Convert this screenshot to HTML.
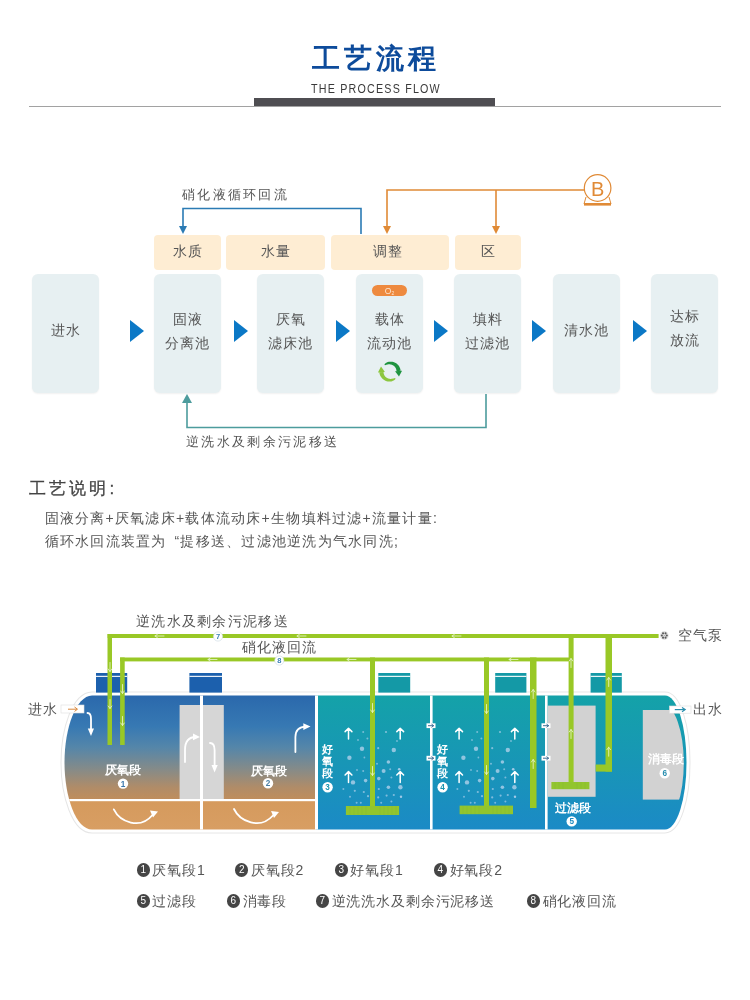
<!DOCTYPE html>
<html><head><meta charset="utf-8"><style>
*{margin:0;padding:0;box-sizing:border-box}
html,body{width:750px;height:1000px;background:#fff;overflow:hidden}
body{position:relative;font-family:"Liberation Sans",sans-serif;color:#555;will-change:transform}
.a{position:absolute}
.t1{left:312px;top:39.5px;font-size:28px;color:#0d4b9b;letter-spacing:4px;font-weight:bold;white-space:nowrap}
.t2{left:311px;top:80.5px;font-size:13.4px;color:#3a3a3a;letter-spacing:1.5px;white-space:nowrap;transform:scaleX(0.8);transform-origin:0 0}
.bar{left:254px;top:98px;width:241px;height:8px;background:#4f4e52}
.ln{left:29px;top:106px;width:692px;height:1px;background:#a2a2a2}
.box{background:#e7f0f2;border-radius:6px;width:67px;height:119px;top:274px;box-shadow:0 1px 2px rgba(0,0,0,.06);display:flex;align-items:center;justify-content:center;text-align:center;font-size:14px;line-height:24px;letter-spacing:1px;color:#555;padding-bottom:5px}
.lab{background:#feedd3;border-radius:4px;height:34.5px;top:235px;display:flex;align-items:center;justify-content:center;font-size:14px;letter-spacing:1px;color:#555}
.tri{width:0;height:0;border-top:12px solid transparent;border-bottom:12px solid transparent;border-left:14.5px solid #0b78c6;top:319.8px;border-top-width:11.7px;border-bottom-width:11.7px}
.h2{left:29px;top:477px;font-size:17px;color:#444;letter-spacing:3.1px;white-space:nowrap;-webkit-text-stroke:0.3px #444}
.p{left:44.5px;font-size:14px;color:#555;letter-spacing:1.25px;white-space:nowrap}
</style></head><body>
<div class="a t1">工艺流程</div>
<div class="a t2">THE PROCESS FLOW</div>
<div class="a ln"></div>
<div class="a bar"></div>

<!-- flow labels -->
<div class="a lab" style="left:154px;width:67px">水质</div>
<div class="a lab" style="left:226px;width:99px">水量</div>
<div class="a lab" style="left:331px;width:118px;padding-right:5px">调整</div>
<div class="a lab" style="left:455px;width:66px">区</div>

<!-- flow boxes -->
<div class="a box" style="left:32px;padding-bottom:7.6px">进水</div>
<div class="a box" style="left:154px">固液<br>分离池</div>
<div class="a box" style="left:257px">厌氧<br>滤床池</div>
<div class="a box" style="left:356px">载体<br>流动池</div>
<div class="a box" style="left:454px">填料<br>过滤池</div>
<div class="a box" style="left:553px;padding-bottom:7.6px">清水池</div>
<div class="a box" style="left:651px;padding-bottom:12px">达标<br>放流</div>

<div class="a tri" style="left:129.8px"></div>
<div class="a tri" style="left:234.3px"></div>
<div class="a tri" style="left:335.8px"></div>
<div class="a tri" style="left:433.6px"></div>
<div class="a tri" style="left:532.4px"></div>
<div class="a tri" style="left:632.6px"></div>

<svg class="a" style="left:0;top:0" width="750" height="470" viewBox="0 0 750 470">
  <!-- blue recycle line -->
  <polyline points="361,234 361,208.5 183,208.5 183,227" fill="none" stroke="#2b7bb4" stroke-width="1.6"/>
  <polygon points="179,226 187,226 183,234" fill="#2b7bb4"/>
  <!-- orange -->
  <polyline points="387,228 387,190 584,190" fill="none" stroke="#e08a36" stroke-width="1.6"/>
  <line x1="496" y1="190" x2="496" y2="228" stroke="#e08a36" stroke-width="1.6"/>
  <polygon points="383,226 391,226 387,234" fill="#e08a36"/>
  <polygon points="492,226 500,226 496,234" fill="#e08a36"/>
  <circle cx="597.6" cy="188" r="13.3" fill="#fff" stroke="#e08a36" stroke-width="1.2"/>
  <path d="M586,197 L584,204 L611,204 L609,197" fill="none" stroke="#e08a36" stroke-width="1"/>
  <rect x="584" y="203" width="27" height="2.6" fill="#e08a36"/>
  <text x="597.6" y="196" font-size="20" fill="#e08a36" text-anchor="middle" font-family="Liberation Sans">B</text>
  <!-- teal return line -->
  <polyline points="486,394 486,427.5 187,427.5 187,401" fill="none" stroke="#4d9c9d" stroke-width="1.6"/>
  <polygon points="182,403 192,403 187,394" fill="#4d9c9d"/>
  <!-- O2 pill -->
  <rect x="372" y="285" width="35" height="11" rx="5.5" fill="#ee8a3f"/>
  <text x="389.5" y="294" font-size="8.5" fill="#fde6d0" text-anchor="middle" font-family="Liberation Sans">O<tspan font-size="5" dy="1">2</tspan></text>
</svg>
<svg class="a" style="left:-0.8px;top:-0.8px" width="750" height="470" viewBox="0 0 750 470"><polygon points="385.46,365.51 385.93,364.75 386.59,364.19 387.33,363.73 388.11,363.35 388.94,363.04 389.80,362.82 390.68,362.69 391.58,362.64 392.48,362.67 393.39,362.79 394.28,362.99 395.15,363.28 396.00,363.65 396.81,364.10 397.58,364.62 398.30,365.21 398.97,365.87 399.58,366.59 400.12,367.37 400.59,368.20 400.98,369.06 401.30,369.97 401.53,370.90 401.67,371.85 397.48,372.15 397.45,371.56 397.37,370.97 397.23,370.39 397.04,369.83 396.80,369.27 396.51,368.74 396.17,368.23 395.79,367.76 395.36,367.31 394.89,366.90 394.39,366.53 393.85,366.21 393.28,365.93 392.68,365.70 392.06,365.52 391.42,365.39 390.77,365.32 390.10,365.30 389.44,365.34 388.76,365.43 388.09,365.58 387.42,365.77 386.74,366.00 385.95,366.14" fill="#1f9440"/><polygon points="403.07,371.76 396.09,372.24 399.97,377.59" fill="#1f9440"/><polygon points="396.54,379.69 396.07,380.45 395.41,381.01 394.67,381.47 393.89,381.85 393.06,382.16 392.20,382.38 391.32,382.51 390.42,382.56 389.52,382.53 388.61,382.41 387.72,382.21 386.85,381.92 386.00,381.55 385.19,381.10 384.42,380.58 383.70,379.99 383.03,379.33 382.42,378.61 381.88,377.83 381.41,377.00 381.02,376.14 380.70,375.23 380.47,374.30 380.33,373.35 384.52,373.05 384.55,373.64 384.63,374.23 384.77,374.81 384.96,375.37 385.20,375.93 385.49,376.46 385.83,376.97 386.21,377.44 386.64,377.89 387.11,378.30 387.61,378.67 388.15,378.99 388.72,379.27 389.32,379.50 389.94,379.68 390.58,379.81 391.23,379.88 391.90,379.90 392.56,379.86 393.24,379.77 393.91,379.62 394.58,379.43 395.26,379.20 396.05,379.06" fill="#8cc63f"/><polygon points="378.93,373.44 385.91,372.96 382.03,367.61" fill="#8cc63f"/></svg>
<div class="a" style="left:182px;top:186px;font-size:13px;letter-spacing:2.3px;color:#555;white-space:nowrap">硝化液循环回流</div>
<div class="a" style="left:186px;top:433px;font-size:13px;letter-spacing:2.35px;color:#555;white-space:nowrap">逆洗水及剩余污泥移送</div>

<div class="a h2">工艺说明:</div>
<div class="a p" style="top:510px">固液分离+厌氧滤床+载体流动床+生物填料过滤+流量计量:</div>
<div class="a p" style="top:533px">循环水回流装置为<span style="padding-left:8px">“</span>提移送、过滤池逆洗为气水同洗;</div>


<svg class="a" style="left:0;top:600px" width="750" height="260" viewBox="0 600 750 260" font-family="Liberation Sans, sans-serif">
<defs>
 <linearGradient id="gA" x1="0" y1="695" x2="0" y2="800" gradientUnits="userSpaceOnUse">
  <stop offset="0" stop-color="#2a68ac"/><stop offset="0.3" stop-color="#3779b3"/><stop offset="0.5" stop-color="#5586a9"/>
  <stop offset="0.71" stop-color="#868b88"/><stop offset="0.88" stop-color="#b08c68"/><stop offset="1" stop-color="#c08e5c"/>
 </linearGradient>
 <linearGradient id="gS" x1="0" y1="800" x2="0" y2="830" gradientUnits="userSpaceOnUse">
  <stop offset="0" stop-color="#d59a5d"/><stop offset="1" stop-color="#d89e63"/>
 </linearGradient>
 <linearGradient id="gT" x1="0" y1="695" x2="0" y2="830" gradientUnits="userSpaceOnUse">
  <stop offset="0" stop-color="#14a2a8"/><stop offset="0.5" stop-color="#1896b6"/><stop offset="1" stop-color="#1b8ac6"/>
 </linearGradient>
 <clipPath id="tk"><path d="M92,695.5 L665,695.5 A21.5,67 0 0 1 665,829.5 L92,829.5 C76,829.5 64.5,797 64.5,762.5 C64.5,728 76,696 92,695.5 Z"/></clipPath>
 <clipPath id="tk2"><rect x="600" y="690" width="63" height="140"/><ellipse cx="663" cy="763" rx="20.8" ry="58.5"/></clipPath>
</defs>
<!-- tank outline -->
<path d="M92,695.5 L665,695.5 A21.5,67 0 0 1 665,829.5 L92,829.5 C76,829.5 64.5,797 64.5,762.5 C64.5,728 76,696 92,695.5 Z" fill="#fff" stroke="#e6e6e6" stroke-width="8"/>
<path d="M92,695.5 L665,695.5 A21.5,67 0 0 1 665,829.5 L92,829.5 C76,829.5 64.5,797 64.5,762.5 C64.5,728 76,696 92,695.5 Z" fill="#fff" stroke="#fff" stroke-width="6"/>
<g clip-path="url(#tk)">
 <rect x="60" y="690" width="256" height="110" fill="url(#gA)"/>
 <rect x="60" y="800" width="256" height="32" fill="url(#gS)"/>
 <rect x="316" y="690" width="380" height="142" fill="url(#gT)"/>
 <rect x="60" y="799" width="256" height="2.2" fill="#fff"/>
 <rect x="200" y="690" width="3" height="142" fill="#fff"/>
 <rect x="315" y="690" width="3" height="142" fill="#fff"/>
 <rect x="430" y="690" width="2.6" height="142" fill="#fff"/>
 <rect x="545" y="690" width="2.6" height="142" fill="#fff"/>
</g>

<!-- baffle -->
<rect x="179.6" y="705" width="20.4" height="94" fill="#d6d6d6"/>
<rect x="203" y="705" width="20.8" height="94" fill="#d6d6d6"/>
<!-- filter block -->
<rect x="547.6" y="705.6" width="48" height="91.2" fill="#d2d2d2"/>
<!-- disinfection block -->
<g clip-path="url(#tk2)"><rect x="642.8" y="710" width="50" height="89.6" fill="#d2d2d2"/></g>
<!-- covers -->
<g><rect x="96" y="673" width="31.2" height="19.6" fill="#1c60ad"/><rect x="96" y="675.8" width="31.2" height="1.1" fill="#fff"/><rect x="189.4" y="673" width="32.6" height="19.6" fill="#1c60ad"/><rect x="189.4" y="675.8" width="32.6" height="1.1" fill="#fff"/><rect x="378.3" y="673" width="31.9" height="19.6" fill="#1499a6"/><rect x="378.3" y="675.8" width="31.9" height="1.1" fill="#fff"/><rect x="495.2" y="673" width="31.2" height="19.6" fill="#1499a6"/><rect x="495.2" y="675.8" width="31.2" height="1.1" fill="#fff"/><rect x="590.6" y="673" width="31.2" height="19.6" fill="#1499a6"/><rect x="590.6" y="675.8" width="31.2" height="1.1" fill="#fff"/></g>
<!-- pipes -->
<g fill="#99c826">
 <rect x="107.6" y="634" width="551" height="4"/>
 <rect x="107.5" y="634" width="4.5" height="111"/>
 <rect x="120" y="657.5" width="451" height="3.9"/>
 <rect x="120.1" y="657.5" width="4.6" height="87.5"/>
 <rect x="370" y="657.5" width="5" height="150"/>
 <rect x="484" y="657.5" width="5" height="150"/>
 <rect x="530" y="657.5" width="6.5" height="150.5"/>
 <rect x="568.6" y="634" width="5" height="152"/>
 <rect x="605.5" y="634" width="6.5" height="137.6"/>
 <rect x="595.7" y="764.5" width="16.3" height="7.1"/>
</g>
<g fill="#b9d4ee"><circle cx="363.2" cy="732" r="1" opacity="0.6"/><circle cx="367.4" cy="738.6" r="1" opacity="0.6"/><circle cx="386.0" cy="732" r="1.1" opacity="0.65"/><circle cx="362.0" cy="748.8" r="2.2" opacity="0.75"/><circle cx="349.4" cy="757.8" r="2.2" opacity="0.75"/><circle cx="378.2" cy="748.2" r="1.1" opacity="0.65"/><circle cx="393.8" cy="750" r="2.2" opacity="0.75"/><circle cx="364.4" cy="757.5" r="0.9" opacity="0.6"/><circle cx="388.4" cy="762" r="1.8" opacity="0.75"/><circle cx="377.0" cy="763.8" r="1" opacity="0.6"/><circle cx="363.2" cy="771" r="1" opacity="0.6"/><circle cx="383.6" cy="771" r="2" opacity="0.75"/><circle cx="390.2" cy="769.2" r="1" opacity="0.6"/><circle cx="399.2" cy="769.2" r="1.3" opacity="0.85"/><circle cx="353.0" cy="782.4" r="2.2" opacity="0.75"/><circle cx="365.6" cy="780.6" r="1.8" opacity="0.75"/><circle cx="378.8" cy="778.6" r="1.8" opacity="0.75"/><circle cx="391.4" cy="777.6" r="1" opacity="0.6"/><circle cx="400.4" cy="787.2" r="2.2" opacity="0.75"/><circle cx="388.4" cy="787.2" r="1.8" opacity="0.75"/><circle cx="343.4" cy="789" r="1" opacity="0.6"/><circle cx="354.8" cy="790.8" r="1.1" opacity="0.65"/><circle cx="363.8" cy="792" r="1.1" opacity="0.65"/><circle cx="378.8" cy="789" r="1.1" opacity="0.65"/><circle cx="393.8" cy="795" r="1.1" opacity="0.65"/><circle cx="386.6" cy="795.6" r="1.1" opacity="0.65"/><circle cx="401.0" cy="796.8" r="1.2" opacity="0.85"/><circle cx="368.0" cy="796.2" r="1.1" opacity="0.65"/><circle cx="378.2" cy="797.4" r="1.1" opacity="0.65"/><circle cx="360.8" cy="802.8" r="1" opacity="0.6"/><circle cx="356.6" cy="802.8" r="1" opacity="0.6"/><circle cx="381.2" cy="802.8" r="1" opacity="0.6"/><circle cx="391.4" cy="801.6" r="1" opacity="0.6"/><circle cx="350.0" cy="796.8" r="1" opacity="0.6"/><circle cx="357.0" cy="770" r="0.9" opacity="0.6"/><circle cx="397.0" cy="741" r="0.9" opacity="0.6"/><circle cx="358.0" cy="740" r="0.9" opacity="0.6"/><circle cx="477.2" cy="732" r="1" opacity="0.6"/><circle cx="481.4" cy="738.6" r="1" opacity="0.6"/><circle cx="500.0" cy="732" r="1.1" opacity="0.65"/><circle cx="476.0" cy="748.8" r="2.2" opacity="0.75"/><circle cx="463.4" cy="757.8" r="2.2" opacity="0.75"/><circle cx="492.2" cy="748.2" r="1.1" opacity="0.65"/><circle cx="507.8" cy="750" r="2.2" opacity="0.75"/><circle cx="478.4" cy="757.5" r="0.9" opacity="0.6"/><circle cx="502.4" cy="762" r="1.8" opacity="0.75"/><circle cx="491.0" cy="763.8" r="1" opacity="0.6"/><circle cx="477.2" cy="771" r="1" opacity="0.6"/><circle cx="497.6" cy="771" r="2" opacity="0.75"/><circle cx="504.2" cy="769.2" r="1" opacity="0.6"/><circle cx="513.2" cy="769.2" r="1.3" opacity="0.85"/><circle cx="467.0" cy="782.4" r="2.2" opacity="0.75"/><circle cx="479.6" cy="780.6" r="1.8" opacity="0.75"/><circle cx="492.8" cy="778.6" r="1.8" opacity="0.75"/><circle cx="505.4" cy="777.6" r="1" opacity="0.6"/><circle cx="514.4" cy="787.2" r="2.2" opacity="0.75"/><circle cx="502.4" cy="787.2" r="1.8" opacity="0.75"/><circle cx="457.4" cy="789" r="1" opacity="0.6"/><circle cx="468.8" cy="790.8" r="1.1" opacity="0.65"/><circle cx="477.8" cy="792" r="1.1" opacity="0.65"/><circle cx="492.8" cy="789" r="1.1" opacity="0.65"/><circle cx="507.8" cy="795" r="1.1" opacity="0.65"/><circle cx="500.6" cy="795.6" r="1.1" opacity="0.65"/><circle cx="515.0" cy="796.8" r="1.2" opacity="0.85"/><circle cx="482.0" cy="796.2" r="1.1" opacity="0.65"/><circle cx="492.2" cy="797.4" r="1.1" opacity="0.65"/><circle cx="474.8" cy="802.8" r="1" opacity="0.6"/><circle cx="470.6" cy="802.8" r="1" opacity="0.6"/><circle cx="495.2" cy="802.8" r="1" opacity="0.6"/><circle cx="505.4" cy="801.6" r="1" opacity="0.6"/><circle cx="464.0" cy="796.8" r="1" opacity="0.6"/><circle cx="471.0" cy="770" r="0.9" opacity="0.6"/><circle cx="511.0" cy="741" r="0.9" opacity="0.6"/><circle cx="472.0" cy="740" r="0.9" opacity="0.6"/></g><!-- diffusers -->
<g fill="#92c52e">
 <rect x="345.9" y="806" width="53.2" height="9"/>
 <rect x="459.6" y="805.6" width="53.4" height="8.6"/>
 <rect x="551.4" y="782" width="38" height="7.2"/>
</g>
<g stroke="#7fb236" stroke-width="0.6" opacity="0.6">
 <path d="M350,806v9M354,806v9M358,806v9M362,806v9M366,806v9M380,806v9M384,806v9M388,806v9M392,806v9M396,806v9"/>
 <path d="M463,806v8M467,806v8M471,806v8M475,806v8M479,806v8M493,806v8M497,806v8M501,806v8M505,806v8M509,806v8"/>
 <path d="M555,782v7M559,782v7M563,782v7M577,782v7M581,782v7M585,782v7"/>
</g>
<g fill="none" stroke="#eaf5d0" stroke-width="0.9" stroke-linecap="round" opacity="0.9"><path d="M164,636 H155 M157.5,634.2 L155,636 L157.5,637.8"/><path d="M306,636 H297 M299.5,634.2 L297,636 L299.5,637.8"/><path d="M461,636 H452 M454.5,634.2 L452,636 L454.5,637.8"/><path d="M217,659.5 H208 M210.5,657.7 L208,659.5 L210.5,661.3"/><path d="M356,659.5 H347 M349.5,657.7 L347,659.5 L349.5,661.3"/><path d="M518,659.5 H509 M511.5,657.7 L509,659.5 L511.5,661.3"/><path d="M110,662.5 V671.5 M108.2,669 L110,671.5 L111.8,669"/><path d="M110,699.5 V708.5 M108.2,706 L110,708.5 L111.8,706"/><path d="M122.5,684.5 V693.5 M120.7,691 L122.5,693.5 L124.3,691"/><path d="M122.5,716.5 V725.5 M120.7,723 L122.5,725.5 L124.3,723"/><path d="M372.5,703.5 V712.5 M370.7,710 L372.5,712.5 L374.3,710"/><path d="M372.5,766.5 V775.5 M370.7,773 L372.5,775.5 L374.3,773"/><path d="M486.5,704.5 V713.5 M484.7,711 L486.5,713.5 L488.3,711"/><path d="M486.5,765.5 V774.5 M484.7,772 L486.5,774.5 L488.3,772"/><path d="M533.2,698.5 V689.5 M531.4000000000001,692 L533.2,689.5 L535.0,692"/><path d="M533.2,768.5 V759.5 M531.4000000000001,762 L533.2,759.5 L535.0,762"/><path d="M571,667.5 V658.5 M569.2,661 L571,658.5 L572.8,661"/><path d="M571,738.5 V729.5 M569.2,732 L571,729.5 L572.8,732"/><path d="M608.7,686.5 V677.5 M606.9000000000001,680 L608.7,677.5 L610.5,680"/><path d="M608.7,756.2 V747.2 M606.9000000000001,749.7 L608.7,747.2 L610.5,749.7"/></g><circle cx="218" cy="636.5" r="4.6" fill="#fff" stroke="#c9d9e3" stroke-width="0.6"/><text x="218" y="639.2" font-size="7.5" font-weight="bold" fill="#3a7fb5" text-anchor="middle">7</text><circle cx="279.3" cy="660.5" r="4.6" fill="#fff" stroke="#c9d9e3" stroke-width="0.6"/><text x="279.3" y="663.2" font-size="7.5" font-weight="bold" fill="#3a7fb5" text-anchor="middle">8</text><!-- air pump -->
<circle cx="664.3" cy="635.5" r="4.4" fill="#e4e4e4"/><circle cx="666.80" cy="635.50" r="1.05" fill="#5a5a5a"/><circle cx="665.55" cy="637.67" r="1.05" fill="#5a5a5a"/><circle cx="663.05" cy="637.67" r="1.05" fill="#5a5a5a"/><circle cx="661.80" cy="635.50" r="1.05" fill="#5a5a5a"/><circle cx="663.05" cy="633.33" r="1.05" fill="#5a5a5a"/><circle cx="665.55" cy="633.33" r="1.05" fill="#5a5a5a"/><circle cx="664.3" cy="635.5" r="0.6" fill="#999"/>
<!-- inlet -->
<rect x="61" y="705" width="23" height="8" fill="#fff" stroke="#ddd" stroke-width="0.6"/>
<path d="M68,709.2 H77" stroke="#d9893d" stroke-width="1"/><path d="M74.5,707 L77.5,709.2 L74.5,711.4" fill="none" stroke="#d9893d" stroke-width="1"/>
<!-- outlet -->
<rect x="669.4" y="706" width="21.6" height="7.2" fill="#fff" stroke="#ddd" stroke-width="0.6"/>
<path d="M674.8,709.6 H685" stroke="#2a8fae" stroke-width="1.2"/><path d="M682,707.4 L685.2,709.6 L682,711.8" fill="none" stroke="#2a8fae" stroke-width="1.2"/>
<g font-size="11.5" font-weight="bold" fill="#fff" letter-spacing="0"><text x="105" y="774">厌氧段</text><text x="251" y="774.5">厌氧段</text><text x="555" y="812">过滤段</text><text x="647.5" y="762.5">消毒段</text><text x="322" y="753.4" font-size="11">好</text><text x="322" y="765.4" font-size="11">氧</text><text x="322" y="777.4" font-size="11">段</text><text x="437" y="753.4" font-size="11">好</text><text x="437" y="765.4" font-size="11">氧</text><text x="437" y="777.4" font-size="11">段</text></g><circle cx="123" cy="783.6" r="5.2" fill="#fff"/><text x="123" y="786.55" font-size="8.2" font-weight="bold" fill="#3a77ad" text-anchor="middle">1</text><circle cx="268" cy="783.3" r="5.2" fill="#fff"/><text x="268" y="786.25" font-size="8.2" font-weight="bold" fill="#4a7fa6" text-anchor="middle">2</text><circle cx="327.6" cy="787.3" r="5.2" fill="#fff"/><text x="327.6" y="790.25" font-size="8.2" font-weight="bold" fill="#1a95b0" text-anchor="middle">3</text><circle cx="442.6" cy="787.3" r="5.2" fill="#fff"/><text x="442.6" y="790.25" font-size="8.2" font-weight="bold" fill="#1a95b0" text-anchor="middle">4</text><circle cx="571.7" cy="821.4" r="5.2" fill="#fff"/><text x="571.7" y="824.35" font-size="8.2" font-weight="bold" fill="#1e8ac0" text-anchor="middle">5</text><circle cx="664.7" cy="773.3" r="5.2" fill="#fff"/><text x="664.7" y="776.25" font-size="8.2" font-weight="bold" fill="#2a8fb0" text-anchor="middle">6</text><g fill="none" stroke="#fff" stroke-width="1.8" stroke-linecap="round"><path d="M87.5,713 Q91,713 91,719 V731"/><path d="M185,762 V750 Q185,737 196,737"/><path d="M210,743 Q214.6,743 214.6,750 V766"/><path d="M295.4,752 V737 Q295.4,727 306,726.6"/><path d="M113.8,809.4 C120,822 140,830 152.5,815"/><path d="M234,809 C240,821.5 260,830 273,815.5"/></g><g fill="#fff"><polygon points="87.8,728.5 94,728.5 91,736"/><polygon points="193,733.5 193,740.3 200,737"/><polygon points="211.5,765 217.7,765 214.6,772.5"/><polygon points="303.3,723.2 303.3,730 310.5,726.6"/><polygon points="150,810.5 158,811.5 153,817.5"/><polygon points="271,811 279,812 274,818"/></g><g fill="none" stroke="#fff" stroke-width="1.5" stroke-linecap="round" stroke-linejoin="round"><path d="M348.5,739 V728.5M345.1,731.6 L348.5,728.2 L351.9,731.6"/><path d="M348.5,782.4 V771.9M345.1,775.0 L348.5,771.6 L351.9,775.0"/><path d="M400.2,739 V728.5M396.8,731.6 L400.2,728.2 L403.59999999999997,731.6"/><path d="M400.2,782.4 V771.9M396.8,775.0 L400.2,771.6 L403.59999999999997,775.0"/><path d="M459.1,739 V728.5M455.70000000000005,731.6 L459.1,728.2 L462.5,731.6"/><path d="M459.1,782.4 V771.9M455.70000000000005,775.0 L459.1,771.6 L462.5,775.0"/><path d="M514.8,739 V728.5M511.4,731.6 L514.8,728.2 L518.1999999999999,731.6"/><path d="M514.8,782.4 V771.9M511.4,775.0 L514.8,771.6 L518.1999999999999,775.0"/></g><rect x="426.5" y="723.3000000000001" width="9" height="4.8" fill="#fff"/><path d="M428.0,725.7 H433.5M431.5,724.1 L433.7,725.7 L431.5,727.3000000000001" stroke="#2d5f8a" stroke-width="0.9" fill="none"/><rect x="426.5" y="755.8000000000001" width="9" height="4.8" fill="#fff"/><path d="M428.0,758.2 H433.5M431.5,756.6 L433.7,758.2 L431.5,759.8000000000001" stroke="#2d5f8a" stroke-width="0.9" fill="none"/><rect x="541.5" y="723.3000000000001" width="9" height="4.8" fill="#fff"/><path d="M543.0,725.7 H548.5M546.5,724.1 L548.7,725.7 L546.5,727.3000000000001" stroke="#2d5f8a" stroke-width="0.9" fill="none"/><rect x="541.5" y="755.8000000000001" width="9" height="4.8" fill="#fff"/><path d="M543.0,758.2 H548.5M546.5,756.6 L548.7,758.2 L546.5,759.8000000000001" stroke="#2d5f8a" stroke-width="0.9" fill="none"/><!-- labels -->
<g font-size="14" fill="#555" letter-spacing="1">
 <text x="28" y="714">进水</text>
 <text x="693" y="714">出水</text>
 <text x="677.6" y="639.5">空气泵</text>
 <text x="136" y="626" letter-spacing="1.3">逆洗水及剩余污泥移送</text>
 <text x="242" y="651.7">硝化液回流</text>
</g>
</svg>
<style>.lg{font-size:14px;color:#555;letter-spacing:0.85px;white-space:nowrap;line-height:16px;display:flex;align-items:center}.nc{display:inline-block;width:13.4px;height:13.4px;border-radius:50%;background:#454545;color:#fff;font-size:10px;line-height:13.4px;text-align:center;margin-right:2.5px;letter-spacing:0}</style><div class="a lg" style="left:136.6px;top:862px"><span class="nc">1</span>厌氧段1</div><div class="a lg" style="left:235px;top:862px"><span class="nc">2</span>厌氧段2</div><div class="a lg" style="left:334.5px;top:862px"><span class="nc">3</span>好氧段1</div><div class="a lg" style="left:433.7px;top:862px"><span class="nc">4</span>好氧段2</div><div class="a lg" style="left:136.6px;top:893px"><span class="nc">5</span>过滤段</div><div class="a lg" style="left:226.7px;top:893px"><span class="nc">6</span>消毒段</div><div class="a lg" style="left:315.7px;top:893px"><span class="nc">7</span>逆洗洗水及剩余污泥移送</div><div class="a lg" style="left:526.7px;top:893px"><span class="nc">8</span>硝化液回流</div>
</body></html>
